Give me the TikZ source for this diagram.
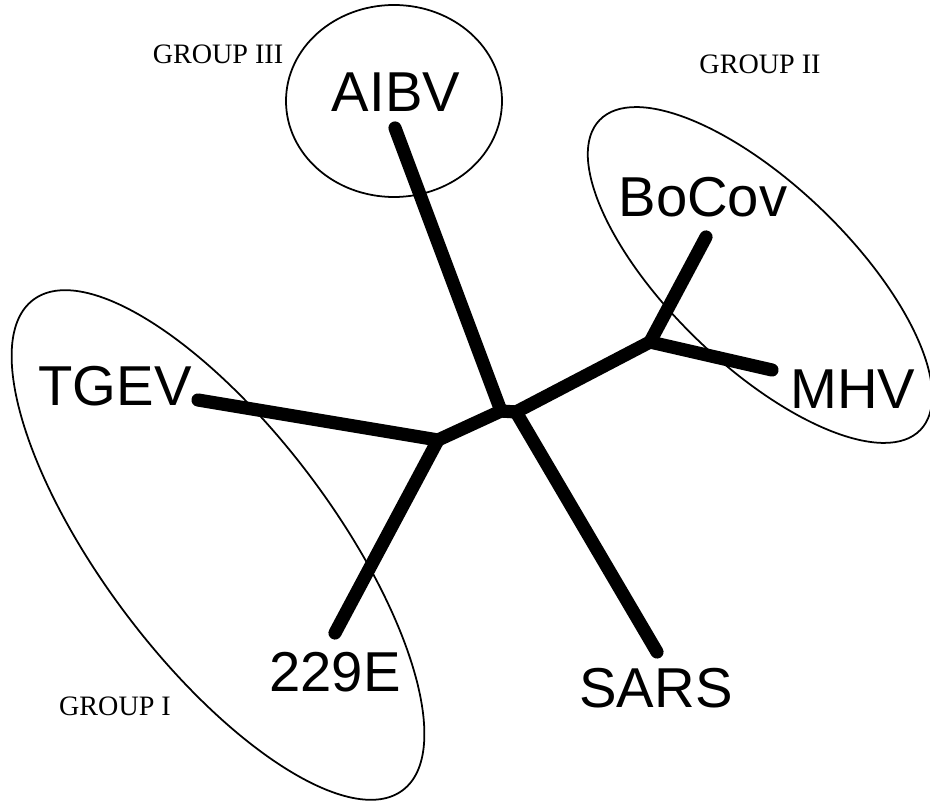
\documentclass[tikz,border=0pt]{standalone}
\usepackage{fontspec}
\setmainfont{Liberation Serif}
\setsansfont{Liberation Sans}
\usetikzlibrary{positioning}
\tikzset{branch/.style={line width=7.5pt,line cap=round,line join=round},
  grouping/.style={line width=1pt},
  taxon/.style={font=\sffamily\fontsize{32}{36}\selectfont,inner sep=0pt},
  grouplabel/.style={font=\fontsize{16}{18}\selectfont,inner sep=0pt}}

\begin{document}
\begin{tikzpicture}[x=0.02cm,y=-0.02cm]
\useasboundingbox (0,0) rectangle (930,803);

% the three groups
\draw[grouping] (394,101) ellipse (108 and 96);
\draw[grouping,rotate around={-44:(760,275)}] (760,275) ellipse (223 and 90);
\draw[grouping,rotate around={-53:(218,545)}] (218,545) ellipse (307 and 115);

\node[grouplabel] (g3) at (218,54) {GROUP III};
\node[grouplabel] (g2) at (760,64) {GROUP II};
\node[grouplabel] (g1) at (115,706) {GROUP I};

% leaves
\node[taxon] (AIBV) at (396,92) {AIBV};
\node[taxon] (BoCov) at (703,197) {BoCov};
\node[taxon] (TGEV) at (115,386) {TGEV};
\node[taxon] (MHV) at (853,389) {MHV};
\node[taxon] (229E) at (335,672) {229E};
\node[taxon] (SARS) at (656,688) {SARS};

% tree: inner nodes and branch ends
\coordinate (c1) at (501,411);
\coordinate (c2) at (516,412);
\coordinate (left) at (438,440);
\coordinate (right) at (650,342);
\coordinate (tAIBV) at (395,128);
\coordinate (tBoCov) at (706,237);
\coordinate (tTGEV) at (198,400);
\coordinate (tMHV) at (772,370);
\coordinate (t229E) at (335,633);
\coordinate (tSARS) at (657,652);

\foreach \a/\b in {c1/tAIBV, c2/tSARS, c1/c2, left/c1, c2/right,
  left/tTGEV, left/t229E, right/tBoCov, right/tMHV}
  \draw[branch] (\a) -- (\b);

\end{tikzpicture}
\end{document}
